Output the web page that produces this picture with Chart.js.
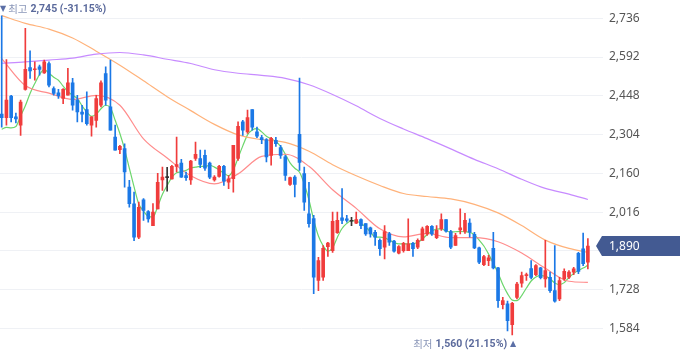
<!DOCTYPE html>
<html><head><meta charset="utf-8">
<script src="https://cdn.jsdelivr.net/npm/chart.js@4"></script>
<style>html,body{margin:0;padding:0;background:#fff;overflow:hidden}#wrap{width:680px;height:358px;position:relative}</style>
</head><body><div id="wrap"><canvas id="c" width="680" height="358"></canvas></div>
<script>
// ---- DATA ----
const opens=[2380,2367,2447,2370,2339,2472,2553,2545,2556,2533,2568,2475,2459,2438,2450,2496,2432,2388,2397,2339,2357,2413,2531,2407,2295,2248,2252,2109,2047,1923,2062,2018,1966,2028,2136,2144,2139,2186,2198,2152,2136,2215,2215,2227,2198,2136,2149,2186,2127,2140,2215,2351,2314,2397,2314,2293,2285,2227,2283,2256,2221,2119,2146,2305,2159,2010,1992,1762,1774,1888,1873,1940,1995,1991,1982,1975,1988,1973,1958,1941,1911,1886,1935,1908,1863,1873,1873,1900,1886,1911,1935,1963,1921,1954,1988,1944,1892,1950,1944,1975,1933,1883,1821,1836,1881,1809,1672,1675,1598,1699,1752,1780,1806,1784,1809,1768,1774,1724,1693,1768,1774,1793,1863,1880,1830];
const highs=[2745,2583,2450,2384,2432,2699,2615,2574,2562,2581,2574,2481,2472,2475,2550,2513,2450,2413,2463,2370,2450,2504,2556,2581,2339,2264,2270,2134,2090,2053,2066,2022,2048,2160,2183,2182,2190,2295,2212,2165,2208,2276,2246,2246,2202,2152,2190,2190,2152,2264,2351,2357,2395,2397,2332,2301,2289,2294,2294,2264,2227,2146,2152,2514,2183,2127,2004,1848,1892,1904,2016,2016,2103,2004,1997,2016,1991,1973,1960,1948,1917,1966,1941,1911,1892,1904,1991,1904,1917,1960,1966,1966,1966,2010,1988,1948,1937,2028,2011,1991,1941,1886,1855,1855,1941,1811,1699,1685,1681,1755,1793,1789,1836,1821,1811,1911,1793,1892,1774,1805,1799,1811,1867,1938,1918];
const lows=[2332,2339,2351,2347,2301,2469,2513,2506,2525,2531,2481,2450,2438,2419,2450,2395,2351,2351,2339,2298,2332,2407,2413,2320,2246,2233,2109,2034,1910,1917,1985,1979,1966,2028,2097,2094,2138,2165,2145,2134,2119,2208,2181,2171,2140,2131,2146,2115,2103,2090,2208,2301,2308,2320,2293,2270,2202,2190,2260,2215,2134,2115,2072,2171,2022,1960,1713,1724,1762,1851,1866,1937,1973,1979,1966,1973,1954,1929,1923,1892,1855,1842,1892,1867,1861,1867,1873,1851,1880,1911,1929,1929,1917,1948,1941,1880,1892,1935,1937,1923,1880,1824,1817,1817,1805,1662,1656,1575,1560,1693,1737,1762,1768,1780,1768,1737,1718,1681,1687,1762,1769,1784,1787,1817,1805];
const closes=[2367,2432,2367,2362,2425,2546,2541,2548,2546,2574,2488,2457,2449,2472,2496,2413,2388,2380,2345,2370,2438,2496,2432,2320,2246,2260,2165,2047,1923,2034,2022,1991,2016,2127,2146,2144,2186,2193,2146,2144,2206,2231,2193,2179,2146,2146,2186,2131,2140,2264,2335,2320,2367,2332,2298,2285,2221,2290,2270,2227,2152,2144,2119,2201,2053,1973,1774,1836,1881,1901,1982,1985,1985,1985,1982,1988,1966,1935,1935,1923,1880,1944,1904,1871,1888,1900,1898,1880,1911,1954,1963,1935,1948,1988,1945,1886,1929,1958,1985,1941,1883,1830,1851,1846,1809,1687,1687,1613,1677,1749,1780,1784,1773,1817,1772,1799,1724,1685,1762,1796,1793,1805,1796,1824,1890];
const ma5=[2324,2331,2329,2334,2373,2411,2457,2494,2527,2545,2532,2517,2506,2484,2464,2450,2438,2411,2388,2372,2380,2400,2413,2404,2357,2308,2249,2179,2110,2046,2020,2000,1998,2037,2082,2115,2145,2162,2165,2171,2180,2183,2186,2186,2190,2183,2173,2160,2151,2173,2217,2262,2303,2321,2326,2314,2298,2289,2278,2260,2231,2199,2179,2164,2121,2061,1987,1927,1891,1871,1883,1922,1955,1974,1984,1983,1974,1961,1942,1923,1923,1920,1912,1903,1898,1898,1898,1899,1903,1916,1933,1946,1953,1954,1946,1942,1943,1944,1943,1941,1931,1912,1890,1860,1826,1790,1747,1713,1689,1687,1706,1734,1760,1775,1780,1778,1768,1753,1747,1754,1773,1788,1799,1808,1819];
const maIdx=[0,5,10,15,20,25,30,35,40,45,50,55,60,65,70,75,80,85,90,95,100,105,110,115,120,124];
const ma20=[2586,2486,2458,2435,2450,2413,2288,2217,2151,2121,2158,2223,2231,2186,2099,2030,1954,1924,1937,1921,1921,1906,1864,1807,1759,1755];
const ma60=[2746,2717,2696,2663,2614,2562,2504,2445,2393,2342,2303,2285,2275,2242,2192,2151,2115,2085,2074,2065,2045,2013,1966,1912,1881,1867];
const ma120=[2569,2574,2581,2588,2603,2609,2600,2584,2568,2545,2532,2524,2513,2489,2453,2411,2364,2325,2289,2251,2212,2177,2138,2104,2083,2063];
const yTicks=[1584,1728,1872,2016,2160,2304,2448,2592,2736];
const lastPrice=1890;
const hiLabel=['최고','2,745 (-31.15%)'];
const loLabel=['최저','1,560 (21.15%)'];

// ---- CHART ----
const UP='#f03c3c', DOWN='#1b78e6', DOJI='#333333';
const idx=opens.map((_,i)=>i);
const col=idx.map(i=>closes[i]>opens[i]?UP:(closes[i]<opens[i]?DOWN:DOJI));
const hiIdx=highs.indexOf(Math.max(...highs));
const loIdx=lows.indexOf(Math.min(...lows));
const fmt=v=>v.toLocaleString('en-US');

const marks={id:'marks',afterDraw(chart){
  const ctx=chart.ctx, xs=chart.scales.x, ys=chart.scales.y, ca=chart.chartArea;
  ctx.save();
  ctx.textBaseline='middle';
  const kr='10.5px "Noto Sans CJK KR"', num='bold 10.5px Roboto';
  // high label
  let x=Math.max(0,xs.getPixelForValue(hiIdx)-2), y=9;
  ctx.fillStyle='#5b6fa6'; ctx.font='8px "DejaVu Sans"'; ctx.textAlign='left';
  ctx.fillText('▼',x,y); x+=ctx.measureText('▼').width+2;
  ctx.fillStyle='#8a96b8'; ctx.font=kr;
  ctx.fillText(hiLabel[0],x,y); x+=ctx.measureText(hiLabel[0]).width+3;
  ctx.fillStyle='#5b6a9c'; ctx.font=num;
  ctx.fillText(hiLabel[1],x,y);
  // low label
  let xr=xs.getPixelForValue(loIdx)+4; y=344;
  ctx.textAlign='right';
  ctx.fillStyle='#5b6fa6'; ctx.font='8px "DejaVu Sans"';
  ctx.fillText('▲',xr,y); xr-=ctx.measureText('▲').width+3;
  ctx.fillStyle='#5b6a9c'; ctx.font=num;
  ctx.fillText(loLabel[1],xr,y); xr-=ctx.measureText(loLabel[1]).width+3;
  ctx.fillStyle='#8a96b8'; ctx.font=kr;
  ctx.fillText(loLabel[0],xr,y);
  // price box
  const py=Math.round(ys.getPixelForValue(lastPrice));
  const bx=ca.right-1, h=20;
  ctx.fillStyle='#435a92';
  ctx.beginPath();
  ctx.moveTo(bx-6,py);
  ctx.lineTo(bx,py-h/2);
  ctx.lineTo(680,py-h/2);
  ctx.lineTo(680,py+h/2);
  ctx.lineTo(bx,py+h/2);
  ctx.closePath(); ctx.fill();
  ctx.fillStyle='#ffffff'; ctx.font='12px "Noto Sans"'; ctx.textAlign='left';
  ctx.fillText(fmt(lastPrice),bx+7,py+1);
  ctx.restore();
}};

const line=(data,xsArr,color,w)=>({type:'line',data:xsArr.map((xv,k)=>({x:xv,y:data[k]})),borderColor:color,borderWidth:w,pointRadius:0,tension:0.4,cubicInterpolationMode:'monotone',order:2,clip:false});

new Chart(document.getElementById('c'),{
  type:'bar',
  data:{datasets:[
    {data:idx.map(i=>({x:i,y:[lows[i],highs[i]]})),backgroundColor:col,barThickness:1,grouped:false,order:1},
    {data:idx.map(i=>({x:i,y:[Math.min(opens[i],closes[i]),Math.max(opens[i],closes[i])]})),backgroundColor:col,barThickness:3,minBarLength:1,grouped:false,order:0},
    line(ma120,maIdx,'#c78bff',1.2),
    line(ma60,maIdx,'#ffb27a',1.2),
    line(ma20,maIdx,'#ff8c8c',1.2),
    line(ma5,idx,'#6cd66c',1.2)
  ]},
  options:{
    responsive:false,animation:false,devicePixelRatio:1,
    layout:{padding:0},
    plugins:{legend:{display:false},tooltip:{enabled:false}},
    scales:{
      x:{type:'linear',min:-0.36,max:127.2,offset:false,display:false,grid:{display:false}},
      y:{position:'right',min:1523,max:2755,
        afterBuildTicks:s=>{s.ticks=yTicks.map(v=>({value:v}));},
        afterFit:s=>{s.width=77;},
        grid:{color:'#eff1f5',drawTicks:false,lineWidth:1},
        border:{display:false},
        ticks:{callback:v=>fmt(v),color:'#555',font:{family:'"Noto Sans"',size:12},padding:6,autoSkip:false}
      }
    }
  },
  plugins:[marks]
});
</script></body></html>
